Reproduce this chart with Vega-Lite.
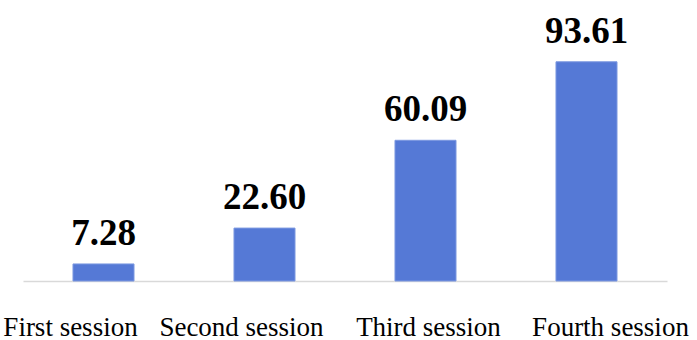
{
  "$schema": "https://vega.github.io/schema/vega-lite/v6.json",
  "autosize": "none",
  "width": 644,
  "height": 281,
  "padding": {"left": 23, "top": 0, "right": 30, "bottom": 59},
  "background": "white",
  "data": {"values": [
    {"session": "First session", "value": 7.28, "label": "7.28"},
    {"session": "Second session", "value": 22.60, "label": "22.60"},
    {"session": "Third session", "value": 60.09, "label": "60.09"},
    {"session": "Fourth session", "value": 93.61, "label": "93.61"}
  ]},
  "config": {"view": {"stroke": null}},
  "encoding": {
    "x": {
      "field": "session", "type": "nominal", "sort": null,
      "scale": {"paddingInner": 0.621, "paddingOuter": 0.3105},
      "axis": {
        "title": null, "labelAngle": 0, "ticks": false,
        "domainColor": "#d9d9d9", "domainWidth": 1.5,
        "labelFont": "Liberation Serif", "labelFontSize": 27, "labelColor": "#000000",
        "labelBaseline": "alphabetic", "labelPadding": 54, "labelOverlap": false, "labelLimit": 0,
        "labelOffset": {"condition": [
          {"test": "datum.value == 'First session'", "value": -33},
          {"test": "datum.value == 'Second session'", "value": -23},
          {"test": "datum.value == 'Third session'", "value": 3},
          {"test": "datum.value == 'Fourth session'", "value": 24}
        ], "value": 0}
      }
    },
    "y": {
      "field": "value", "type": "quantitative",
      "scale": {"domain": [0, 120], "nice": false},
      "axis": null
    }
  },
  "layer": [
    {"mark": {"type": "bar", "color": "#5579D6", "stroke": "#7C98E0", "strokeWidth": 1}},
    {"mark": {"type": "text", "font": "Liberation Serif", "fontSize": 37, "fontWeight": "bold", "color": "#000000", "baseline": "alphabetic", "dy": -19},
     "encoding": {"text": {"field": "label"}}}
  ]
}
